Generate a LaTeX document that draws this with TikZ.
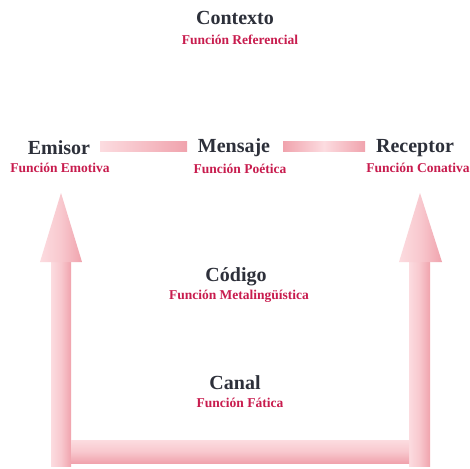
\documentclass[tikz,border=0pt]{standalone}
\usepackage{fontspec}
\setmainfont{Liberation Serif}
\definecolor{ttl}{RGB}{45,48,58}
\definecolor{sub}{RGB}{200,28,78}
\definecolor{pk}{RGB}{248,200,206}
\definecolor{pkd}{RGB}{240,163,173}
\definecolor{pkl}{RGB}{252,220,224}
\begin{document}
\begin{tikzpicture}[x=1pt,y=-1pt,
  ttlnode/.style={font=\fontsize{20}{22}\selectfont\bfseries,text=ttl,inner sep=0pt},
  subnode/.style={font=\fontsize{13.5}{15}\selectfont\bfseries,text=sub,inner sep=0pt}]
\useasboundingbox[fill=white] (0,0) rectangle (470,468);
% U-shaped double arrow
\shade[left color=pkl,right color=pkd,middle color=pk] (51,262) rectangle (71,466);
\shade[left color=pkl,right color=pkd,middle color=pk] (409,262) rectangle (430,466);
\shade[top color=pkl,bottom color=pkd,middle color=pk] (71,440) rectangle (409,463);
\shade[left color=pkl,right color=pkd,middle color=pk] (40,262) -- (61,193) -- (82,262) -- cycle;
\shade[left color=pkl,right color=pkd,middle color=pk] (399,262) -- (420,193) -- (442,262) -- cycle;
% horizontal bars
\shade[left color=pkl,right color=pkd] (100,141) rectangle (187,151);
\shade[left color=pkd,right color=pkd,middle color=pkl] (283,141) rectangle (365,151);
% texts
\node[ttlnode] (contexto) at (235,18) {Contexto};
\node[subnode] (fref) at (240,40) {Función Referencial};
\node[ttlnode] (emisor) at (59,148) {Emisor};
\node[subnode] (femo) at (60,168) {Función Emotiva};
\node[ttlnode] (mensaje) at (234,148) {Mensaje};
\node[subnode] (fpoe) at (240,169) {Función Poética};
\node[ttlnode] (receptor) at (415,148) {Receptor};
\node[subnode] (fcon) at (418,168) {Función Conativa};
\node[ttlnode] (codigo) at (236,277) {Código};
\node[subnode] (fmet) at (239,296) {Función Metalingüística};
\node[ttlnode] (canal) at (235,383) {Canal};
\node[subnode] (ffat) at (240,403) {Función Fática};
\end{tikzpicture}
\end{document}
